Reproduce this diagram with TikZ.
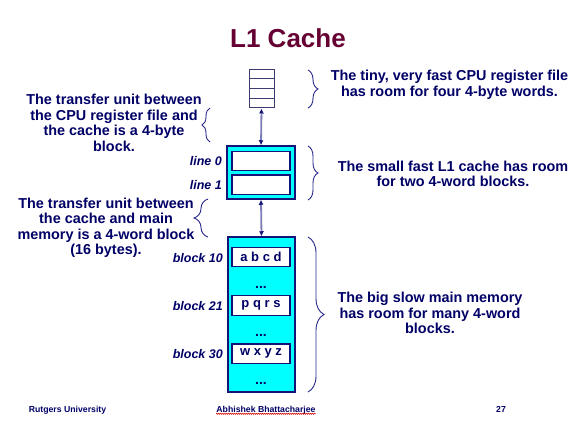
\documentclass[tikz,border=0pt]{standalone}
\usepackage{fontspec}
\setmainfont{Liberation Sans}
\usetikzlibrary{arrows.meta,decorations.pathreplacing,decorations.pathmorphing}

\definecolor{ink}{RGB}{0,0,102}
\definecolor{titlered}{RGB}{102,0,51}
\definecolor{frame}{RGB}{20,20,120}
\definecolor{regline}{RGB}{60,60,110}
\definecolor{linkgray}{RGB}{125,125,185}
\definecolor{bracecol}{RGB}{40,40,140}
\definecolor{memcyan}{RGB}{0,255,255}

\begin{document}
\begin{tikzpicture}[x=1pt,y=-1pt,
  body/.style={font=\fontsize{14.4}{15.5}\selectfont\bfseries, text=ink, align=center, inner sep=0},
  tag/.style={font=\fontsize{12.5}{14}\selectfont\bfseries\itshape, text=ink, anchor=east, inner sep=0},
  foot/.style={font=\fontsize{8.7}{10}\selectfont\bfseries, text=ink, anchor=base, inner sep=0},
  regcell/.style={draw=regline, line width=1pt, fill=white, minimum width=25pt, minimum height=9.75pt, inner sep=0},
  store/.style={draw=frame, line width=1.5pt, fill=memcyan, inner sep=0},
  slot/.style={draw=frame, line width=1.2pt, fill=white, minimum width=58pt, minimum height=19.5pt, inner sep=0, font=\fontsize{13}{14}\selectfont\bfseries, text=ink},
  gap/.style={font=\fontsize{14}{14}\selectfont\bfseries, text=ink, anchor=base, inner sep=0},
  link/.style={draw=linkgray, line width=1.8pt, {Latex[color=frame,length=5pt,width=5pt]}-{Latex[color=frame,length=5pt,width=5pt]}},
  curly/.style={draw=bracecol, line width=0.9pt, decorate, decoration={brace, amplitude=#1}},
  curly/.default=10pt
]
\useasboundingbox (0,0) rectangle (576,426);

% title
\node[font=\fontsize{26}{30}\selectfont\bfseries, text=titlered, inner sep=0] (title) at (288,38) {L1 Cache};

% register file: four word cells
\node[regcell] (reg1) at (261.5,73.9) {};
\node[regcell] (reg2) at (261.5,83.6) {};
\node[regcell] (reg3) at (261.5,93.4) {};
\node[regcell] (reg4) at (261.5,103.1) {};

% L1 cache with two lines
\node[store, minimum width=68pt, minimum height=53pt] (cache) at (261,172.5) {};
\node[slot] (line0) at (261,161) {};
\node[slot] (line1) at (261,184.7) {};
\node[tag] (tag0) at (222,161) {line 0};
\node[tag] (tag1) at (222,185) {line 1};

% main memory
\node[store, minimum width=67pt, minimum height=155pt] (mem) at (261.5,314.5) {};
\node[slot] (blk10) at (261,257) {a b c d};
\node[slot] (blk21) at (261,305.5) {p q r s};
\node[slot] (blk30) at (261,353.7) {w x y z};
\node[gap] (gap1) at (261,288) {...};
\node[gap] (gap2) at (261,336.5) {...};
\node[gap] (gap3) at (261,384.5) {...};
\node[tag] (tag10) at (223,258) {block 10};
\node[tag] (tag21) at (223,306) {block 21};
\node[tag] (tag30) at (223,354) {block 30};

% transfer paths
\draw[link] (reg4.south) -- (cache.north);
\draw[link] (cache.south) -- (mem.north);

% braces on the right
\draw[curly=10pt] (308,70) -- (308,108);
\draw[curly=10pt] (308,146) -- (308,200);
\draw[curly=16pt] (308,237) -- (308,392);

% braces on the left
\draw[curly=8pt] (210,142) -- (210,108);
\draw[curly=14pt] (208,237) -- (208,199);

% descriptions
\node[body] (rtxt1) at (449.5,85) {The tiny, very fast CPU register file\\has room for four 4-byte words.};
\node[body] (rtxt2) at (453,174) {The small fast L1 cache has room\\for two 4-word blocks.};
\node[body] (rtxt3) at (430,313) {The big slow main memory\\has room for many 4-word\\blocks.};
\node[body] (ltxt1) at (114,123) {The transfer unit between\\the CPU register file and\\the cache is a 4-byte\\block.};
\node[body] (ltxt2) at (106,228) {The transfer unit between\\the cache and main\\memory is a 4-word block\\(16 bytes).};

% footer
\node[foot] (foot1) at (67.5,412) {Rutgers University};
\node[foot] (foot2) at (266,412) {Abhishek Bhattacharjee};
\node[foot] (foot3) at (501,412) {27};
\draw[red!85!black, line width=0.5pt, decorate, decoration={zigzag, amplitude=0.6pt, segment length=2pt}]
  ([yshift=-1.8pt]foot2.base west) -- ([yshift=-1.8pt]foot2.base east);
\end{tikzpicture}
\end{document}
